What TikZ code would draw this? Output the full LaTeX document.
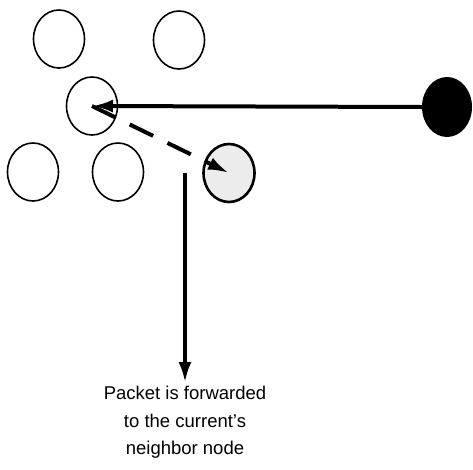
\documentclass[tikz,border=0pt]{standalone}
\usepackage{fontspec}
\setmainfont{Liberation Sans}
\usetikzlibrary{arrows.meta, shapes.geometric}
\definecolor{shade1}{RGB}{236,236,236}

\begin{document}
\begin{tikzpicture}[x=1pt,y=-1pt,
		peer/.style={ellipse, draw, line width=1.6pt, minimum width=51pt, minimum height=58pt, inner sep=0pt},
		next/.style={peer, line width=2.6pt, fill=shade1},
		sink/.style={ellipse, fill=black, minimum width=50pt, minimum height=60pt, inner sep=0pt},
		fwd/.style={line width=4pt, -{Latex[length=21pt,width=13pt]}}]
		\useasboundingbox (0,0) rectangle (473,469);
		% nodes around the current one
		\node[peer] (p1) at (59,39) {};
		\node[peer] (p2) at (179,40) {};
		\node[peer] (cur) at (92,106) {};
		\node[peer] (p3) at (33,172) {};
		\node[peer] (p4) at (118,172) {};
		\node[next] (nb) at (229,173) {};
		\node[sink] (dst) at (447,107) {};
		
		\draw[fwd] (dst.west) -- (cur.center);
		\draw[fwd, dash pattern=on 26pt off 16pt] (cur.center) -- (nb.center);
		
		\node[align=center, font=\fontsize{18.5}{27.5}\selectfont, anchor=north, inner sep=1pt] (note) at (185,385)
		{Packet is forwarded\\to the current's\\neighbor node};
		\coordinate (drop) at (185,173);
		\draw[fwd] (drop) -- ([yshift=2pt]note.north);
		
\end{tikzpicture}
\end{document}
